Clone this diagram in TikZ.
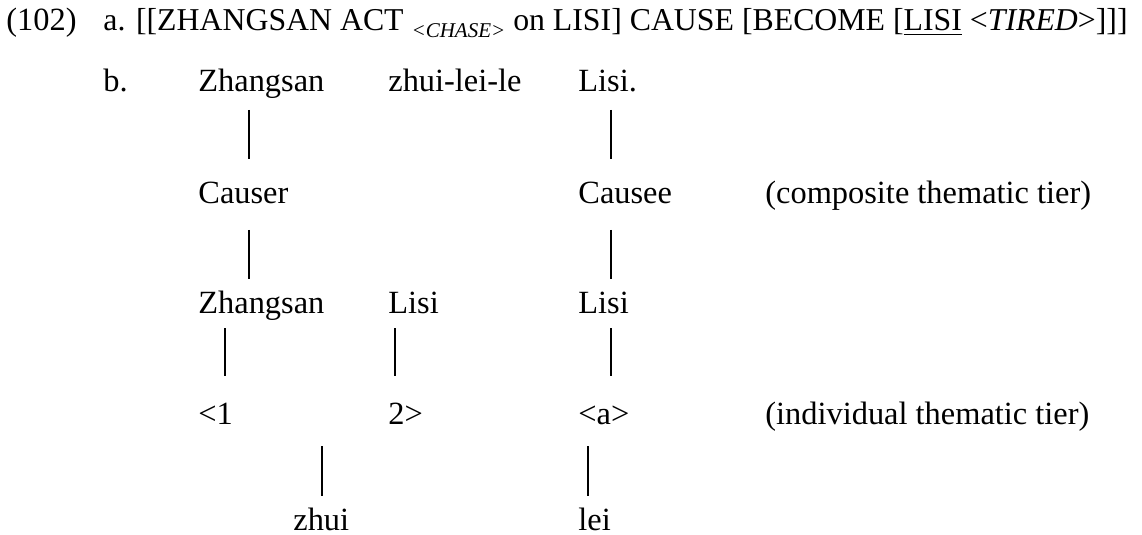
\documentclass[tikz,border=0pt]{standalone}
\usepackage{fontspec}
\setmainfont{Liberation Serif}
\usepackage{tikz}
\usetikzlibrary{calc}

\begin{document}
\begin{tikzpicture}[x=0.5pt, y=-0.5pt,
    every node/.style={anchor=base west, inner sep=0pt,
        font=\fontsize{16.2}{19}\selectfont},
    tier/.style={line width=1pt}]
    \useasboundingbox (0,0) rectangle (1142,535);

    % 1. Riga (a): struttura concettuale
    \node (num) at (6,31) {(102)};
    \node[font=\fontsize{15.9}{19}\selectfont] (rowa) at (103,31) {a. [[ZHANGSAN ACT
        \raisebox{-0.2em}{\fontsize{10.5}{12}\selectfont\itshape <CHASE>}
        on LISI] CAUSE [BECOME [\underline{LISI} <\textit{TIRED}>]]]};

    % 2. Riga (b): la frase
    \node (b) at (103,92) {b.};
    \node (zsB) at (198,92) {Zhangsan};
    \node (verb) at (388,92) {zhui-lei-le};
    \node (lisiB) at (578,92) {Lisi.};

    % 3. Livello tematico composito
    \node (causer) at (198,204) {Causer};
    \node (causee) at (578,204) {Causee};
    \node (comp) at (765,204) {(composite thematic tier)};

    % 4. Argomenti
    \node (zsC) at (198,314) {Zhangsan};
    \node (lisiC) at (388,314) {Lisi};
    \node (lisiD) at (578,314) {Lisi};

    % 5. Livello tematico individuale
    \node (one) at (198,424) {<1};
    \node (two) at (388,424) {2>};
    \node (aArg) at (578,424) {<a>};
    \node (indiv) at (765,424) {(individual thematic tier)};

    % 6. Morfemi
    \node (zhui) at (293,530) {zhui};
    \node (lei) at (578,530) {lei};

    % 7. Linee di associazione
    \draw[tier] ($(zsB.base west)+(51,18)$) -- ($(causer.base west)+(51,-45)$);
    \draw[tier] ($(lisiB.base west)+(33,18)$) -- ($(causee.base west)+(33,-45)$);
    \draw[tier] ($(causer.base west)+(51,26)$) -- ($(zsC.base west)+(51,-35)$);
    \draw[tier] ($(causee.base west)+(33,26)$) -- ($(lisiD.base west)+(33,-35)$);
    \draw[tier] ($(zsC.base west)+(27,14)$) -- ($(one.base west)+(27,-48)$);
    \draw[tier] ($(lisiC.base west)+(7,14)$) -- ($(two.base west)+(7,-48)$);
    \draw[tier] ($(lisiD.base west)+(33,14)$) -- ($(aArg.base west)+(33,-48)$);
    \draw[tier] ($(one.base west)+(124,22)$) -- ($(zhui.base west)+(29,-34)$);
    \draw[tier] ($(aArg.base west)+(10,22)$) -- ($(lei.base west)+(10,-34)$);

\end{tikzpicture}
\end{document}
